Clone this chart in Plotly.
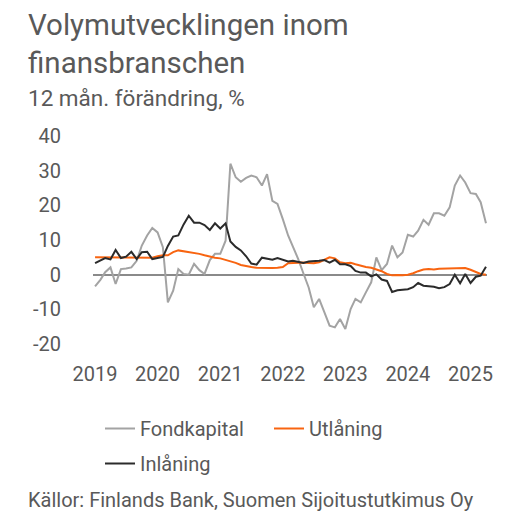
import pandas as pd
import plotly.graph_objects as go

months = pd.date_range("2019-01-01", "2025-04-01", freq="MS")

fondkapital = [-3.4, -1.5, 0.7, 2.1, -2.7, 1.6, 1.8, 2.1, 4.0, 8.4, 11.3, 13.5,
               12.2, 7.9, -8.0, -4.6, 1.6, 0.2, 0.0, 3.1, 1.3, 0.2, 4.2, 6.0,
               6.0, 9.8, 32.0, 28.1, 26.8, 27.9, 28.6, 28.1, 25.7, 29.0, 21.3, 20.4,
               16.0, 11.3, 8.1, 4.5, 0.4, -3.7, -9.4, -7.0, -10.9, -14.7, -15.2, -12.8,
               -15.7, -9.9, -7.0, -8.0, -5.1, -2.2, 5.0, 1.3, 3.1, 8.4, 5.0, 6.4,
               11.5, 11.0, 12.7, 15.8, 14.4, 17.7, 17.7, 17.0, 19.4, 25.7, 28.6, 26.6,
               23.5, 23.3, 20.9, 14.8]

utlaning = [5.0, 5.0, 5.0, 4.9, 4.8, 4.8, 4.9, 4.9, 5.0, 5.0, 4.9, 4.9,
            5.3, 5.6, 5.6, 6.5, 7.0, 6.8, 6.4, 6.4, 6.0, 5.6, 5.2, 4.9,
            4.7, 4.3, 4.0, 3.4, 2.8, 2.4, 2.2, 2.0, 1.9, 1.9, 1.9, 2.0,
            2.2, 3.3, 3.4, 3.4, 3.5, 3.4, 3.3, 3.6, 4.3, 5.0, 4.7, 3.6,
            3.3, 3.4, 3.0, 2.5, 2.2, 2.0, 1.6, 1.0, 0.2, -0.2, -0.1, -0.2,
            0.0, 0.4, 1.0, 1.5, 1.6, 1.5, 1.7, 1.7, 1.8, 1.8, 1.9, 1.9,
            1.4, 0.7, 0.2, 0.0]

inlaning = [3.3, 4.0, 4.8, 4.4, 7.1, 4.8, 5.2, 6.6, 4.5, 6.5, 6.6, 4.5,
            4.7, 5.1, 8.3, 11.0, 11.3, 14.5, 17.0, 15.0, 15.0, 14.3, 12.9, 14.8,
            13.3, 14.8, 9.6, 8.0, 7.0, 5.3, 3.2, 2.9, 4.9, 4.6, 4.3, 4.8,
            4.3, 3.8, 4.0, 3.7, 3.4, 3.8, 3.8, 4.0, 4.2, 3.5, 4.3, 3.0,
            3.0, 2.5, 1.1, 0.6, 0.6, -0.5, 0.1, -1.4, -1.8, -5.0, -4.5, -4.4,
            -4.2, -3.6, -2.4, -3.2, -3.3, -3.5, -3.9, -3.6, -2.7, 0.0, -2.5, 0.2,
            -2.4, -0.6, -0.3, 2.3]

year_ticks = ["2019-01-01", "2020-01-01", "2021-01-01", "2022-01-01",
              "2023-01-01", "2024-01-01", "2025-01-01"]
year_labels = ["2019", "2020", "2021", "2022", "2023", "2024", "2025"]
y_ticks = [-20, -10, 0, 10, 20, 30, 40]
y_labels = ["-20", "-10", "0", "10", "20", "30", "40"]

FONT = "Roboto"
TXT = "#595959"

# The page body has an 8px margin, so the figure is drawn 8px smaller
# and all pixel positions below are relative to the figure itself.
OFF = 8
W, H = 522 - OFF, 511 - OFF
L, R, T, B = 93 - OFF, 35, 136 - OFF, 167
plot_w = W - L - R
plot_h = H - T - B


def px_x(px):
    return (px - OFF - L) / plot_w


def px_y(py):
    return (H - B - (py - OFF)) / plot_h


fig = go.Figure()
fig.add_trace(go.Scatter(x=months, y=fondkapital, name="Fondkapital", mode="lines",
                         line=dict(color="#a3a3a3", width=2), legend="legend"))
fig.add_trace(go.Scatter(x=months, y=utlaning, name="Utlåning", mode="lines",
                         line=dict(color="#f86410", width=2), legend="legend"))
fig.add_trace(go.Scatter(x=months, y=inlaning, name="Inlåning", mode="lines",
                         line=dict(color="#2b2b2b", width=2), legend="legend2"))

fig.update_layout(
    width=W, height=H,
    margin=dict(l=L, r=R, t=T, b=B),
    paper_bgcolor="white", plot_bgcolor="white",
    font=dict(family=FONT, color=TXT, size=20),
    showlegend=True,
    legend=dict(orientation="h", x=px_x(100), xanchor="left", y=px_y(409), yanchor="top",
                font=dict(size=20, color=TXT), entrywidth=124,
                bgcolor="rgba(0,0,0,0)", traceorder="normal"),
    legend2=dict(orientation="h", x=px_x(100), xanchor="left", y=px_y(444), yanchor="top",
                 font=dict(size=20, color=TXT), bgcolor="rgba(0,0,0,0)"),
    xaxis=dict(type="date", range=["2018-12-20", "2025-04-07"],
               tickvals=year_ticks, ticktext=year_labels,
               showgrid=False, zeroline=False, showline=False,
               ticks="outside", ticklen=12, tickcolor="rgba(0,0,0,0)",
               tickfont=dict(size=20, color=TXT)),
    yaxis=dict(range=[-20, 40], tickvals=y_ticks, ticktext=y_labels,
               showgrid=False, zeroline=True, zerolinecolor="#8a8a8a", zerolinewidth=2,
               showline=False, ticks="outside", ticklen=27, tickcolor="rgba(0,0,0,0)",
               tickfont=dict(size=20, color=TXT)),
    annotations=[
        dict(text="Volymutvecklingen inom<br>finansbranschen", xref="paper", yref="paper",
             x=px_x(26), y=px_y(6), xanchor="left", yanchor="top", showarrow=False,
             align="left", font=dict(size=29.5, color=TXT, family=FONT)),
        dict(text="12 mån. förändring, %", xref="paper", yref="paper",
             x=px_x(26), y=px_y(83), xanchor="left", yanchor="top", showarrow=False,
             align="left", font=dict(size=22.5, color=TXT, family=FONT)),
        dict(text="Källor: Finlands Bank, Suomen Sijoitustutkimus Oy", xref="paper", yref="paper",
             x=px_x(26), y=px_y(514), xanchor="left", yanchor="bottom", showarrow=False,
             align="left", font=dict(size=20, color=TXT, family=FONT)),
    ],
)

fig.write_html("out.html")
